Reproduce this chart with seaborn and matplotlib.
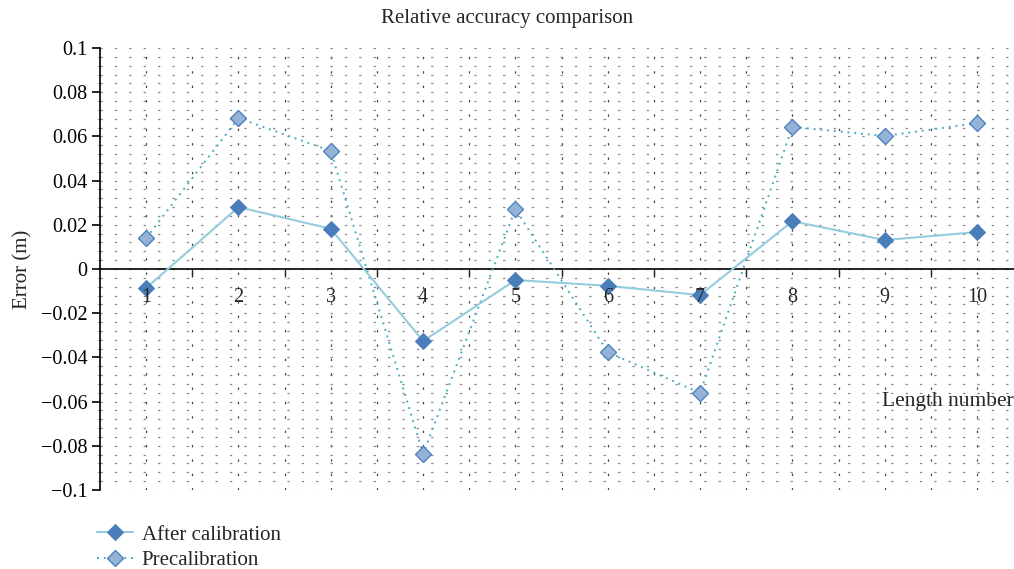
import numpy as np
import pandas as pd
import matplotlib
matplotlib.use("Agg")
import matplotlib.pyplot as plt
from matplotlib.ticker import FixedLocator, MultipleLocator, FuncFormatter, NullFormatter
import seaborn as sns

# Length numbers and measured errors (m)
length_number = [1, 2, 3, 4, 5, 6, 7, 8, 9, 10]
after_calibration = [-0.0086, 0.0280, 0.0182, -0.0326, -0.0050, -0.0076, -0.0118, 0.0216, 0.0131, 0.0167]
precalibration = [0.0140, 0.0683, 0.0534, -0.0837, 0.0271, -0.0376, -0.0561, 0.0643, 0.0602, 0.0660]
series_names = ["After calibration", "Precalibration"]

sns.set_style("white")
plt.rcParams["font.family"] = ["Liberation Serif", "DejaVu Serif"]

fig = plt.figure(figsize=(10.14, 5.69), dpi=100)
ax = fig.add_axes([100 / 1014, 1 - 490 / 569, 914 / 1014, (490 - 48) / 569])

df = pd.DataFrame({"n": length_number, "after": after_calibration, "pre": precalibration})

sns.lineplot(data=df, x="n", y="pre", ax=ax, color="#4bacc6", linestyle=(0, (1, 2.5)),
             linewidth=1.4, marker="D", markersize=8, markerfacecolor="#95b3d7",
             markeredgecolor="#4f81bd", markeredgewidth=1.0, label=series_names[1], zorder=4)
sns.lineplot(data=df, x="n", y="after", ax=ax, color="#93cddd", linestyle="-",
             linewidth=1.5, marker="D", markersize=8, markerfacecolor="#4a7ebb",
             markeredgecolor="#4a7ebb", label=series_names[0], zorder=5)

ax.set_xlim(0.5, 10.4)
ax.set_ylim(-0.1, 0.1)

# y axis
ax.yaxis.set_major_locator(MultipleLocator(0.02))
ax.yaxis.set_minor_locator(MultipleLocator(0.004))

def yfmt(v, pos):
    if abs(v) < 1e-9:
        return "0"
    s = f"{v:.2f}".rstrip("0").rstrip(".")
    return s.replace("-", "\u2212")

ax.yaxis.set_major_formatter(FuncFormatter(yfmt))
ax.tick_params(axis="y", which="major", direction="out", length=6, width=1.2,
               labelsize=14.5, colors="black", left=True, pad=3)
ax.tick_params(axis="y", which="minor", direction="out", length=1.5, width=0.6, left=True)

# x axis crossing at zero, with category labels drawn just below it
ax.spines["bottom"].set_position(("data", 0))
ax.spines["bottom"].set_color("black")
ax.spines["bottom"].set_linewidth(1.2)
ax.spines["left"].set_color("black")
ax.spines["left"].set_linewidth(1.2)
ax.spines["top"].set_visible(False)
ax.spines["right"].set_visible(False)
ax.xaxis.set_major_locator(FixedLocator(length_number))
ax.xaxis.set_minor_locator(FixedLocator([n + 0.5 for n in length_number]))
ax.xaxis.set_major_formatter(NullFormatter())
ax.tick_params(axis="x", which="major", length=0, bottom=True)
ax.tick_params(axis="x", which="minor", direction="out", length=6, width=1.0, bottom=True)
for n in length_number:
    ax.text(n, -0.0130, str(n), ha="center", va="center", fontsize=14.5, zorder=6)

# dotted grid on every major and minor position
ax.yaxis.grid(True, which="both", color="#8a8a8a", linestyle=(0, (1.9, 9.6)), linewidth=0.9)
ax.xaxis.grid(True, which="both", color="#444444", linestyle=(0, (1.9, 9.6)), linewidth=0.9)
ax.set_axisbelow(True)

ax.set_xlabel("")
ax.set_ylabel("Error (m)", fontsize=15, labelpad=6)
ax.text(1.0, 0.2, "Length number", transform=ax.transAxes, ha="right", va="center",
        fontsize=15.5, zorder=6)

fig.text(0.5, 1 - 19 / 569, "Relative accuracy comparison", ha="center", va="center", fontsize=15)

handles, labels = ax.get_legend_handles_labels()
order = [labels.index(series_names[0]), labels.index(series_names[1])]
leg = ax.legend([handles[i] for i in order], [labels[i] for i in order],
                loc="upper left", bbox_to_anchor=(97 / 1014, 1 - 525 / 569),
                bbox_transform=fig.transFigure, frameon=False, fontsize=15,
                handlelength=1.75, handletextpad=0.4, labelspacing=0.3, borderaxespad=0,
                borderpad=0)

fig.savefig("out.png", dpi=100)
